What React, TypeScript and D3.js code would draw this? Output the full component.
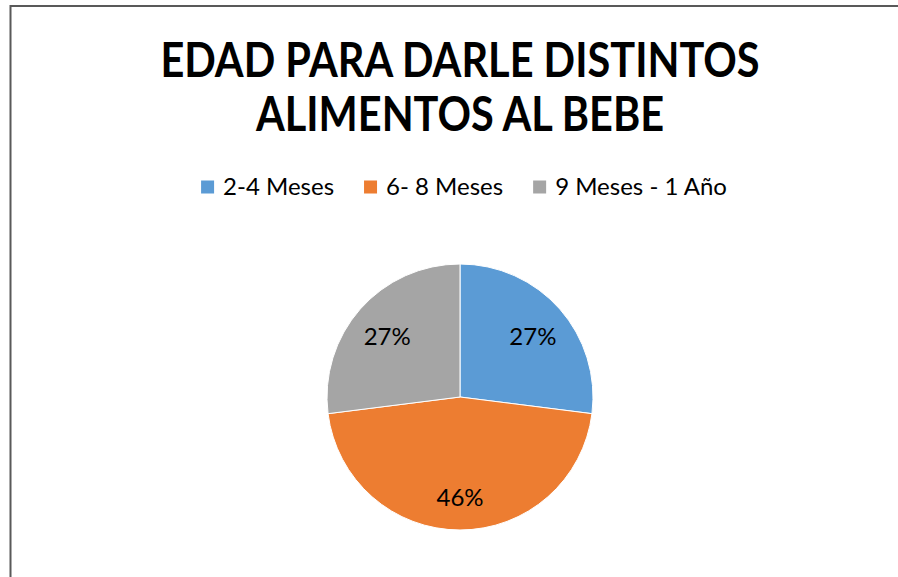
import React, { useEffect, useRef } from "react";
import * as d3 from "d3";

const categories = ["2-4 Meses", "6- 8 Meses", "9 Meses - 1 Año"];
const values = [27, 46, 27];
const valueLabels = ["27%", "46%", "27%"];
const colors = ["#5B9BD5", "#ED7D31", "#A5A5A5"];
const titleLines = ["EDAD PARA DARLE DISTINTOS", "ALIMENTOS AL BEBE"];

const W = 898;
const H = 577;
const FONT = "Lato, 'Open Sans', sans-serif";

export default function App() {
  const ref = useRef<SVGSVGElement | null>(null);

  useEffect(() => {
    const svg = d3.select(ref.current);
    svg.selectAll("*").remove();

    // frame
    svg.append("rect").attr("x", 0).attr("y", 0).attr("width", W).attr("height", H).attr("fill", "#fff");
    svg.append("line").attr("x1", 10).attr("x2", W).attr("y1", 6).attr("y2", 6)
      .attr("stroke", "#595959").attr("stroke-width", 2);
    svg.append("line").attr("x1", 10.5).attr("x2", 10.5).attr("y1", 5).attr("y2", H)
      .attr("stroke", "#595959").attr("stroke-width", 2);

    const cx = 460;

    // title (Calibri-like narrower glyphs: compress horizontally)
    const title = svg.append("g");
    const narrow = 0.883;
    titleLines.forEach((t, i) => {
      const tx = title.append("text")
        .attr("x", cx)
        .attr("y", 77 + i * 54)
        .attr("text-anchor", "middle")
        .attr("font-family", FONT)
        .attr("font-weight", 700)
        .attr("font-size", 47)
        .attr("fill", "#000")
        .text(t);
      const w = (tx.node() as SVGTextElement).getComputedTextLength();
      tx.attr("textLength", w * narrow).attr("lengthAdjust", "spacingAndGlyphs");
    });

    // legend
    const legend = svg.append("g");
    const sq = 13;
    const gapSqText = 9;
    const gapItems = 30;
    const items = categories.map((c, i) => {
      const g = legend.append("g");
      g.append("rect").attr("width", sq).attr("height", sq).attr("y", -sq / 2).attr("fill", colors[i]);
      const tx = g.append("text")
        .attr("x", sq + gapSqText)
        .attr("y", 0)
        .attr("dy", "0.35em")
        .attr("font-family", FONT)
        .attr("font-size", 24)
        .attr("fill", "#000")
        .text(c);
      const w = (tx.node() as SVGTextElement).getComputedTextLength();
      return { g, w: sq + gapSqText + w };
    });
    const total = d3.sum(items, (d) => d.w) + gapItems * (items.length - 1);
    let x = cx + 4 - total / 2;
    items.forEach((it) => {
      it.g.attr("transform", `translate(${x},187)`);
      x += it.w + gapItems;
    });

    // pie
    const R = 133;
    const cy = 397;
    const pie = d3.pie<number>().sort(null).value((d) => d);
    const arc = d3.arc<d3.PieArcDatum<number>>().innerRadius(0).outerRadius(R);
    const labelArc = d3.arc<d3.PieArcDatum<number>>().innerRadius(R * 0.73).outerRadius(R * 0.73);
    const arcs = pie(values);
    const pg = svg.append("g").attr("transform", `translate(${cx},${cy})`);
    pg.selectAll("path.slice")
      .data(arcs)
      .enter()
      .append("path")
      .attr("class", "slice")
      .attr("d", arc)
      .attr("fill", (_d, i) => colors[i])
      .attr("stroke", "#fff")
      .attr("stroke-width", 1);
    pg.selectAll("text.lbl")
      .data(arcs)
      .enter()
      .append("text")
      .attr("class", "lbl")
      .attr("transform", (d) => {
        const [lx, ly] = labelArc.centroid(d);
        return `translate(${lx},${ly + 4})`;
      })
      .attr("text-anchor", "middle")
      .attr("dy", "0.35em")
      .attr("font-family", FONT)
      .attr("font-size", 24)
      .attr("fill", "#000")
      .text((_d, i) => valueLabels[i]);
  }, []);

  return (
    <svg
      ref={ref}
      width={W}
      height={H}
      style={{ position: "absolute", left: 0, top: 0, display: "block" }}
    />
  );
}
